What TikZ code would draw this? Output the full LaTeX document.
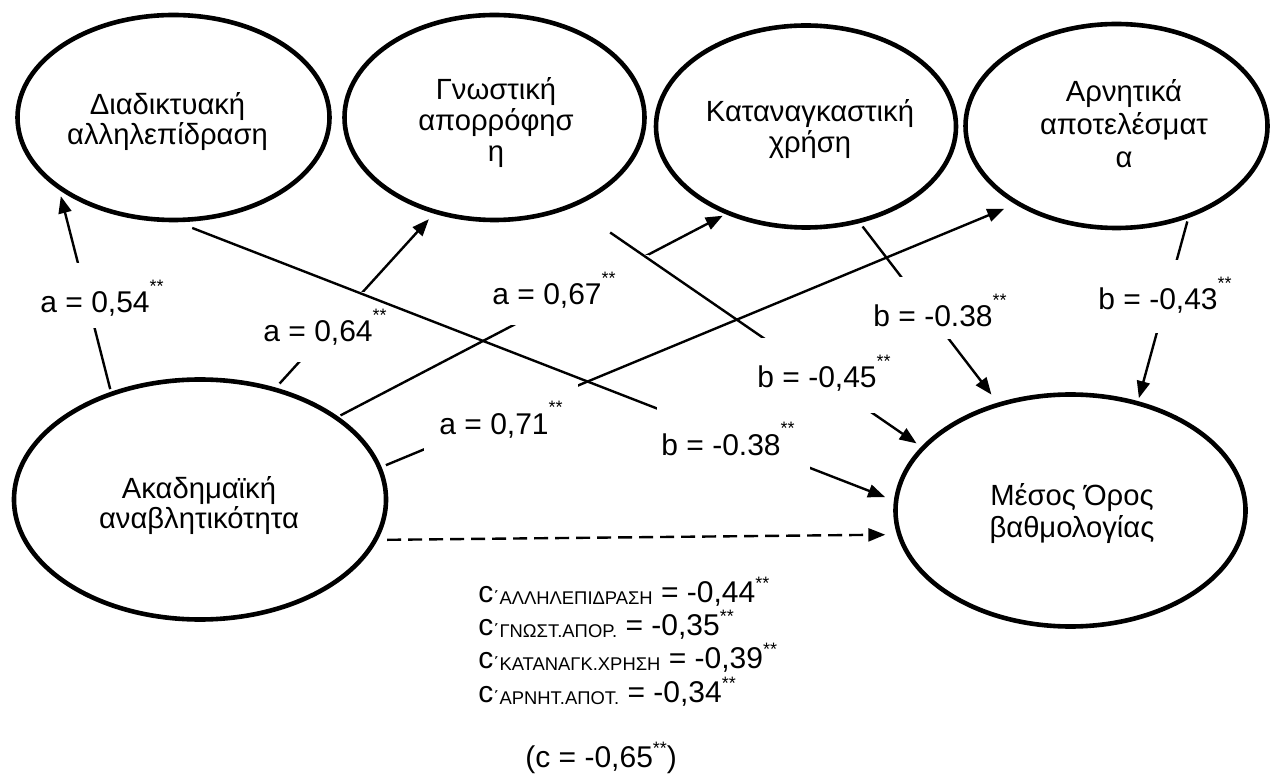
\documentclass[tikz,border=0pt]{standalone}
\usepackage{fontspec}
\setmainfont{Liberation Sans}
\usetikzlibrary{arrows.meta,shapes.geometric}
\newcommand\ml[2]{\vtop{\baselineskip=#1\lineskiplimit=-\maxdimen\lineskip=0pt\halign{\hfil##\hfil\cr#2\crcr}}}
\newcommand\st[1][10pt]{\raisebox{#1}{\fontsize{9}{9}\selectfont **}}
\newcommand\sbs[1]{\raisebox{-1pt}{\fontsize{9.2}{9.2}\selectfont #1}}
\begin{document}
\begin{tikzpicture}[x=0.5pt,y=-0.5pt,
  ell/.style={draw, ellipse, line width=2.3pt, inner sep=0pt, outer sep=0pt},
  txt/.style={anchor=base, inner sep=0pt, font=\fontsize{14.6}{17.5}\selectfont},
  ctxt/.style={anchor=base west, inner sep=0pt, font=\fontsize{15}{18}\selectfont},
  lbl/.style={anchor=base west, fill=white, inner xsep=7.5pt, inner ysep=0pt,
              text height=25pt, text depth=10pt, font=\fontsize{15}{18}\selectfont},
  conn/.style={line width=1.2pt, -{Triangle[length=8.5pt,width=6.5pt]}},
  dconn/.style={conn, dash pattern=on 7pt off 3.5pt},
]
\fill[white] (0,0) rectangle (1272,774);
\useasboundingbox (0,0) rectangle (1272,774);

% ellipses
\node[ell, minimum width=156pt, minimum height=102.5pt] (di) at (173.5,117.5) {};
\node[ell, minimum width=150pt, minimum height=102.5pt] (gn) at (494.5,117.5) {};
\node[ell, minimum width=150pt, minimum height=101pt] (ka) at (806,126.5) {};
\node[ell, minimum width=151pt, minimum height=102pt] (ar) at (1116.5,126) {};
\node[ell, minimum width=186pt, minimum height=120pt] (ak) at (200,499.5) {};
\node[ell, minimum width=175pt, minimum height=116pt] (mo) at (1070.5,510.5) {};

% ellipse texts
\node[txt] (tdi) at (167.5,115) {\ml{14.6pt}{Διαδικτυακή\cr αλληλεπίδραση}};
\node[txt] (tgn) at (496,100) {\ml{15.5pt}{Γνωστική\cr απορρόφησ\cr η}};
\node[txt] (tka) at (810,122) {\ml{15.5pt}{Καταναγκαστική\cr χρήση}};
\node[txt] (tar) at (1124,102) {\ml{16.5pt}{Αρνητικά\cr αποτελέσματ\cr α}};
\node[txt] (tak) at (199,498) {\ml{15pt}{Ακαδημαϊκή\cr αναβλητικότητα}};
\node[txt] (tmo) at (1072,505) {\ml{16pt}{Μέσος Όρος\cr βαθμολογίας}};

% a paths
\draw[conn, shorten <=2.5pt, shorten >=4.9pt] (ak.130.96) -- (di.211.6);
\draw[conn, shorten <=4pt, shorten >=5pt] (ak.56.7) -- (gn.-122.4);
\draw[conn, shorten <=2.5pt, shorten >=3.1pt] (ak.31.2) -- (ka.-132.9);
\draw[conn, shorten <=3.5pt, shorten >=7.3pt] (ak.10.7) -- (ar.-142.6);

% a labels
\node[lbl, text depth=7.5pt] (la1) at (25,313) {a = 0,54\st};
\node[lbl] (la2) at (248,342) {a = 0,64\st};
\node[lbl] (la3) at (477,305) {a = 0,67\st\hspace*{9pt}};
\node[lbl] (la4) at (424,434) {a = 0,71\st};

% b paths
\draw[conn, shorten <=11pt, shorten >=5.9pt] (di.-91.1) -- (mo.177.1);
\draw[conn, shorten <=23.7pt, shorten >=4pt] (gn.-49.5) -- (mo.157.7);
\draw[conn, shorten <=3.4pt, shorten >=6.3pt] (ka.-61.8) -- (mo.124.6);
\draw[conn, shorten <=3.1pt, shorten >=2.7pt] (ar.-51.7) -- (mo.58.4);

% b labels
\node[lbl, inner xsep=2pt] (lb1) at (657,455) {b = -0.38\st\hspace*{5.5pt}};
\node[lbl, text depth=12.5pt] (lb2) at (742,388) {b = -0,45\st};
\node[lbl, text depth=6pt] (lb3) at (858,327) {b = -0.38\st};
\node[lbl, text depth=11.5pt] (lb4) at (1083,310) {b = -0,43\st};

% direct path
\draw[dconn, shorten <=6pt, shorten >=7pt] (ak.-13.76) -- (mo.188.8);

% c' values
\node[ctxt] (c1) at (478,602) {c\sbs{΄ΑΛΛΗΛΕΠΙΔΡΑΣΗ} = -0,44\st[6.5pt]};
\node[ctxt] (c2) at (478,635) {c\sbs{΄ΓΝΩΣΤ.ΑΠΟΡ.} = -0,35\st[6.5pt]};
\node[ctxt] (c3) at (478,668) {c\sbs{΄ΚΑΤΑΝΑΓΚ.ΧΡΗΣΗ} = -0,39\st[6.5pt]};
\node[ctxt] (c4) at (478,702) {c\sbs{΄ΑΡΝΗΤ.ΑΠΟΤ.} = -0,34\st[6.5pt]};
\node[ctxt] (c0) at (525,767) {(c = -0,65\st[6.5pt])};
\end{tikzpicture}
\end{document}
